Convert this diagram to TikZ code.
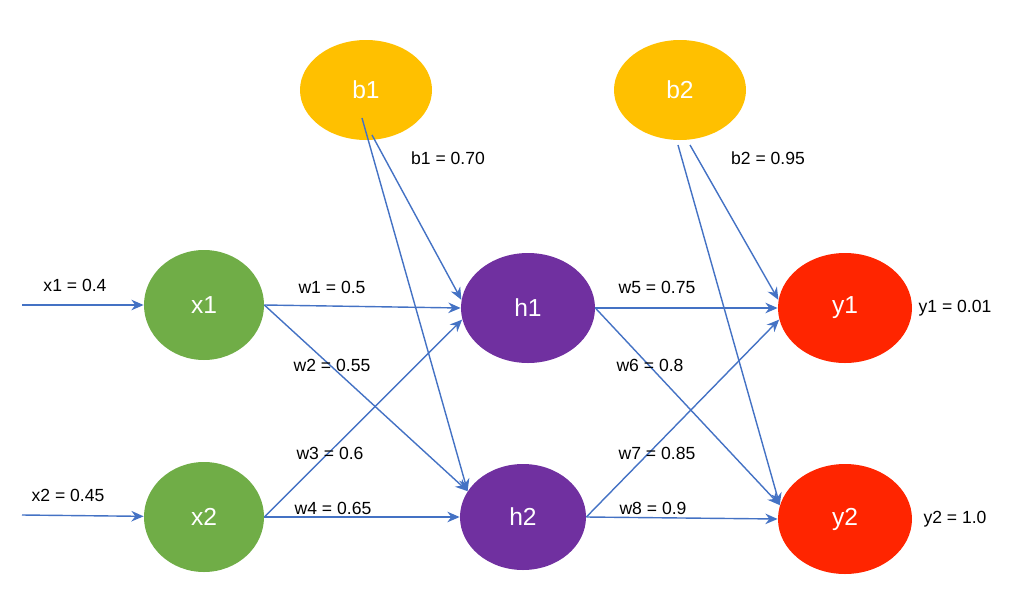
\documentclass[tikz,border=0pt]{standalone}
\usepackage{fontspec}
\setmainfont{Liberation Sans}
\usetikzlibrary{arrows.meta, shapes.geometric, positioning, calc}
\definecolor{inGreen}{HTML}{70AD47}
\definecolor{hidPurple}{HTML}{7030A0}
\definecolor{biasGold}{HTML}{FFC000}
\definecolor{outRed}{HTML}{FF2500}
\definecolor{edgeBlue}{HTML}{4472C4}
\begin{document}
\begin{tikzpicture}[x=0.02cm, y=-0.02cm,
	neuron/.style={ellipse, draw=none, text=white, font=\fontsize{14}{16}\selectfont},
	wlabel/.style={font=\fontsize{10}{12}\selectfont},
	link/.style={edgeBlue, thick, -{Stealth[length=7pt,width=6pt]}}]
	% Canvas
	\useasboundingbox (0,0) rectangle (1029,616);
	
	% Neurons
	\node[neuron, fill=inGreen, minimum width=120*0.02cm, minimum height=110*0.02cm] (x1) at (204,305) {x1};
	\node[neuron, fill=inGreen, minimum width=120*0.02cm, minimum height=110*0.02cm] (x2) at (204,517) {x2};
	\node[neuron, fill=hidPurple, minimum width=134*0.02cm, minimum height=110*0.02cm] (h1) at (528,308) {h1};
	\node[neuron, fill=hidPurple, minimum width=126*0.02cm, minimum height=106*0.02cm] (h2) at (523,517) {h2};
	\node[neuron, fill=outRed, minimum width=134*0.02cm, minimum height=110*0.02cm] (y1) at (845,308) {y1};
	\node[neuron, fill=outRed, minimum width=134*0.02cm, minimum height=110*0.02cm] (y2) at (845,519) {y2};
	\node[neuron, fill=biasGold, minimum width=132*0.02cm, minimum height=100*0.02cm] (b1) at (366,90) {b1};
	\node[neuron, fill=biasGold, minimum width=132*0.02cm, minimum height=100*0.02cm] (b2) at (680,90) {b2};
	
	% Free ends
	\coordinate (in1) at (22,305);
	\coordinate (in2) at (22,515);
	\coordinate (b1a) at (362,118);
	\coordinate (b1b) at (372,135);
	\coordinate (b2a) at (678,145);
	\coordinate (b2b) at (690,145);
	
	% Connections
	\draw[link] (in1) -- (x1.west);
	\draw[link] (in2) -- (x2);
	\draw[link] (x1.east) -- (h1.west);
	\draw[link] (x1.east) -- (h2.155);
	\draw[link] (x2.east) -- (h1.190);
	\draw[link] (x2.east) -- (h2.west);
	\draw[link] (b1a) -- (h2.155);
	\draw[link] (b1b) -- (h1.173);
	\draw[link] (h1.east) -- (y1.west);
	\draw[link] (h1.east) -- (y2.168);
	\draw[link] (h2.east) -- (y1.190);
	\draw[link] (h2.east) -- (y2.west);
	\draw[link] (b2a) -- (y2.168);
	\draw[link] (b2b) -- (y1.173);
	
	% Values
	\node[wlabel] (lx1) at (75,285) {x1 = 0.4};
	\node[wlabel] (lx2) at (68,495) {x2 = 0.45};
	\node[wlabel] (lw1) at (332,287) {w1 = 0.5};
	\node[wlabel] (lw2) at (332,365) {w2 = 0.55};
	\node[wlabel] (lw3) at (330,453) {w3 = 0.6};
	\node[wlabel] (lw4) at (333,508) {w4 = 0.65};
	\node[wlabel] (lw5) at (657,287) {w5 = 0.75};
	\node[wlabel] (lw6) at (650,365) {w6 = 0.8};
	\node[wlabel] (lw7) at (657,453) {w7 = 0.85};
	\node[wlabel] (lw8) at (653,508) {w8 = 0.9};
	\node[wlabel] (lb1) at (448,158) {b1 = 0.70};
	\node[wlabel] (lb2) at (768,158) {b2 = 0.95};
	\node[wlabel] (ly1) at (955,308) {y1 = 0.01};
	\node[wlabel] (ly2) at (955,519) {y2 = 1.0};
\end{tikzpicture}
\end{document}
